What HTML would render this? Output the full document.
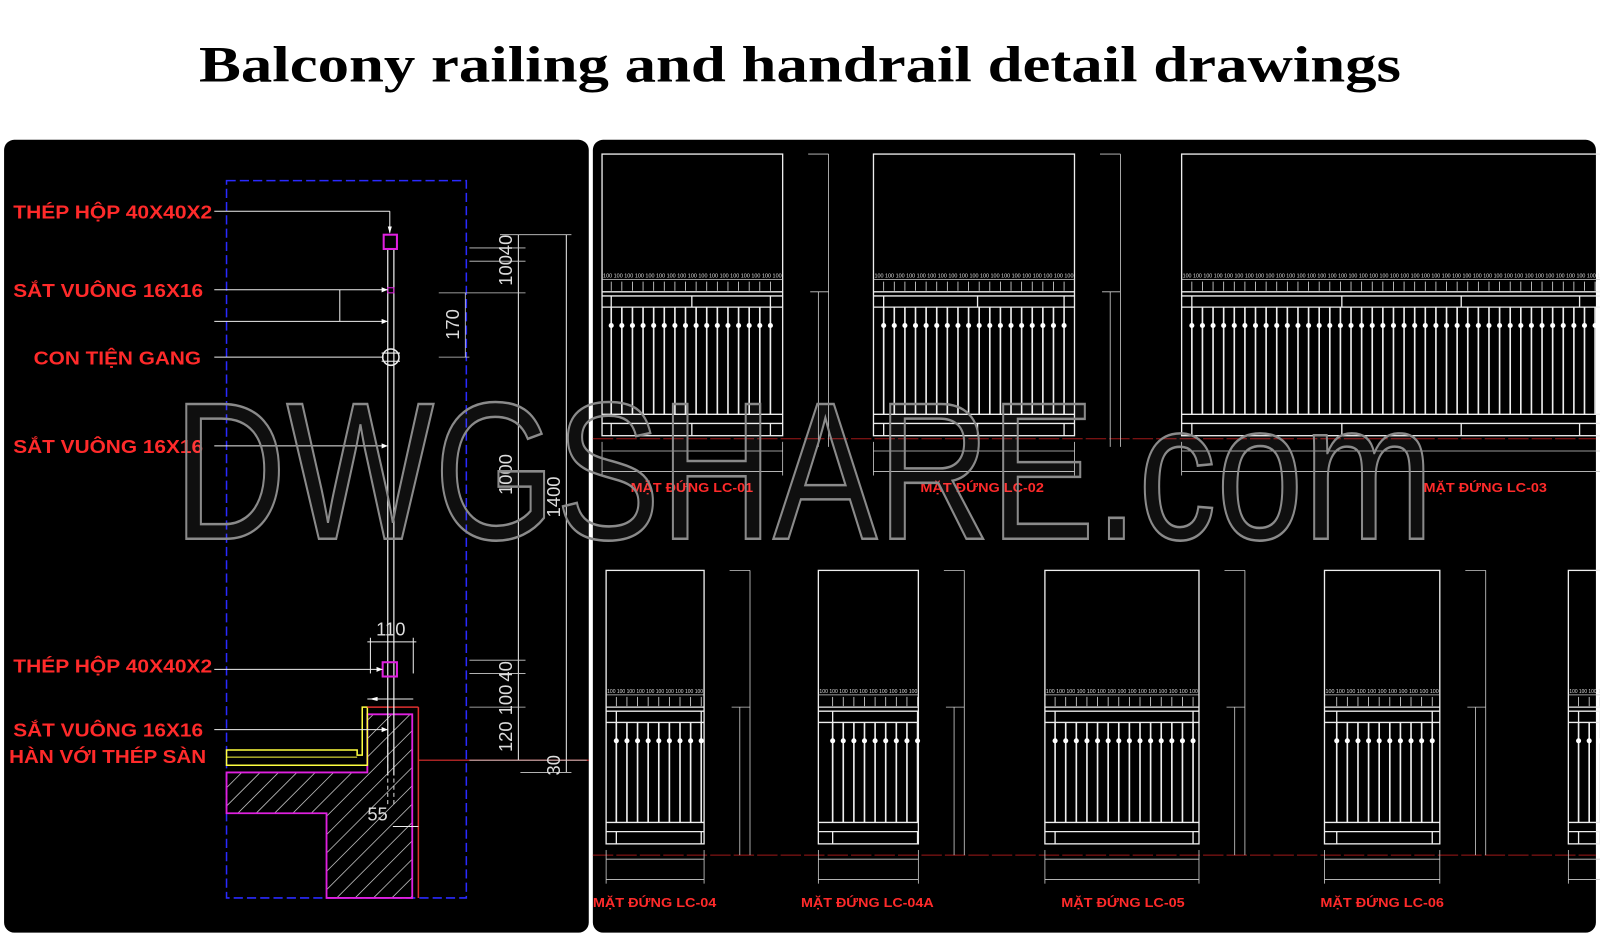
<!DOCTYPE html>
<html><head><meta charset="utf-8"><style>
html,body{margin:0;padding:0;background:#fff;width:1600px;height:936px;overflow:hidden}
svg{display:block}
.lbl{font-family:"Liberation Sans",sans-serif;font-weight:bold;fill:#ff2a2a}
.dim{font-family:"Liberation Sans",sans-serif;fill:#ddd}
</style></head><body>
<svg id="s" width="1600" height="936" viewBox="0 0 1568 917.3" preserveAspectRatio="none" xmlns="http://www.w3.org/2000/svg">
<rect width="1568" height="918" fill="#fff"/>
<text x="195" y="80" textLength="1178" lengthAdjust="spacingAndGlyphs" font-family="Liberation Serif,serif" font-weight="bold" font-size="50" fill="#000">Balcony railing and handrail detail drawings</text>
<rect x="4" y="137" width="573" height="777" rx="10" fill="#000"/>
<rect x="581" y="137" width="983" height="777" rx="10" fill="#000"/>
<g id="left"></g>
<g id="right"></g>
<g class="lbl" font-size="18">
<text x="13" y="214" textLength="195" lengthAdjust="spacingAndGlyphs">THÉP HỘP 40X40X2</text>
<text x="13" y="291" textLength="186" lengthAdjust="spacingAndGlyphs">SẮT VUÔNG 16X16</text>
<text x="33" y="357" textLength="164" lengthAdjust="spacingAndGlyphs">CON TIỆN GANG</text>
<text x="13" y="444" textLength="186" lengthAdjust="spacingAndGlyphs">SẮT VUÔNG 16X16</text>
<text x="13" y="659" textLength="195" lengthAdjust="spacingAndGlyphs">THÉP HỘP 40X40X2</text>
<text x="13" y="722" textLength="186" lengthAdjust="spacingAndGlyphs">SẮT VUÔNG 16X16</text>
<text x="9" y="748" textLength="193" lengthAdjust="spacingAndGlyphs">HÀN VỚI THÉP SÀN</text>
</g>
<g class="dim" font-size="18">
<text x="383" y="623" text-anchor="middle">110</text>
<text x="370" y="804" text-anchor="middle">55</text>
<text transform="translate(502,255) rotate(-90)" text-anchor="middle">10040</text>
<text transform="translate(450,318) rotate(-90)" text-anchor="middle">170</text>
<text transform="translate(502,465) rotate(-90)" text-anchor="middle">1000</text>
<text transform="translate(549,487) rotate(-90)" text-anchor="middle">1400</text>
<text transform="translate(502,658) rotate(-90)" text-anchor="middle">40</text>
<text transform="translate(502,686) rotate(-90)" text-anchor="middle">100</text>
<text transform="translate(502,722) rotate(-90)" text-anchor="middle">120</text>
<text transform="translate(549,750) rotate(-90)" text-anchor="middle">30</text>
</g>
<g class="lbl" font-size="13">
<text x="618" y="482" textLength="120" lengthAdjust="spacingAndGlyphs">MẶT ĐỨNG LC-01</text>
<text x="902" y="482" textLength="121" lengthAdjust="spacingAndGlyphs">MẶT ĐỨNG LC-02</text>
<text x="1395" y="482" textLength="121" lengthAdjust="spacingAndGlyphs">MẶT ĐỨNG LC-03</text>
<text x="581" y="889" textLength="121" lengthAdjust="spacingAndGlyphs">MẶT ĐỨNG LC-04</text>
<text x="785" y="889" textLength="130" lengthAdjust="spacingAndGlyphs">MẶT ĐỨNG LC-04A</text>
<text x="1040" y="889" textLength="121" lengthAdjust="spacingAndGlyphs">MẶT ĐỨNG LC-05</text>
<text x="1294" y="889" textLength="121" lengthAdjust="spacingAndGlyphs">MẶT ĐỨNG LC-06</text>
</g>
<text x="170" y="528" textLength="1235" lengthAdjust="spacingAndGlyphs" font-family="Liberation Sans,sans-serif" font-size="192" fill="rgba(255,255,255,0.06)" stroke="#8a8a8a" stroke-width="2.5">DWGSHARE.com</text>
</svg>
<script>
var NS="http://www.w3.org/2000/svg";
function el(p,t,a){var e=document.createElementNS(NS,t);for(var k in a)e.setAttribute(k,a[k]);p.appendChild(e);return e;}
var L=document.getElementById('left'),R=document.getElementById('right');
function ln(g,x1,y1,x2,y2,c,w,d){var a={x1:x1,y1:y1,x2:x2,y2:y2,stroke:c||'#eee','stroke-width':w||1};if(d)a['stroke-dasharray']=d;return el(g,'line',a);}
el(L,'rect',{x:222,y:177,width:235,height:703,fill:'none',stroke:'#2a2aff','stroke-width':1.5,'stroke-dasharray':'9 4'});
var hp="M222,757 L360,757 L360,700 L404,700 L404,880 L320,880 L320,797 L222,797 Z";
var dfs=el(L,'defs',{});var cp=el(dfs,'clipPath',{id:'cp'});el(cp,'path',{d:hp});
var hg=el(L,'g',{'clip-path':'url(#cp)'});
for(var i=-20;i<30;i++){ln(hg,222+i*18,880,222+i*18+190,690,'#bbb',0.8);}
el(L,'path',{d:hp,fill:'none',stroke:'#e020e0','stroke-width':1.8});
el(L,'path',{d:"M222,735 L350,735 L350,740 L355,740 L355,693 L360,693 L360,750 L222,750 Z",fill:'none',stroke:'#ffff40','stroke-width':1.5});
ln(L,222,742,350,742,'#ffff40',1);
ln(L,410,693,410,880,'#e03030',1.5);ln(L,360,693,410,693,'#e03030',1.5);ln(L,410,745,577,745,'#e03030',1);
ln(L,380,244,380,760,'#eee',1.2);ln(L,386,244,386,760,'#eee',1.2);
ln(L,380,700,380,790,'#ddd',1,'4 3');ln(L,386,700,386,790,'#ddd',1,'4 3');
el(L,'rect',{x:376,y:230,width:13,height:14,fill:'none',stroke:'#e020e0','stroke-width':2});
el(L,'rect',{x:375,y:649,width:14,height:14,fill:'none',stroke:'#e020e0','stroke-width':2});
el(L,'rect',{x:380,y:282,width:6,height:5,fill:'none',stroke:'#e020e0','stroke-width':1});
el(L,'ellipse',{cx:383,cy:350,rx:8,ry:8,fill:'none',stroke:'#eee','stroke-width':1.5});
ln(L,374,346,392,346);ln(L,374,354,392,354);
function lead(y,x2){ln(L,210,y,x2,y,'#eee',1);el(L,'path',{d:'M'+(x2-6)+','+(y-2.5)+' L'+x2+','+y+' L'+(x2-6)+','+(y+2.5)+'Z',fill:'#fff'});}
ln(L,210,207,382,207);ln(L,382,207,382,228);el(L,'path',{d:'M380,222 L382,229 L384,222Z',fill:'#fff'});
lead(284,380);ln(L,333,284,333,315);lead(315,380);
ln(L,210,350,376,350);lead(437,380);lead(656,375);lead(715,380);
ln(L,360,685,405,685);el(L,'path',{d:'M362,685 L370,683 L370,687Z',fill:'#fff'});
ln(L,363,625,363,660);ln(L,405,625,405,660);ln(L,360,629,408,629);
ln(L,385,810,410,810);
ln(L,508,230,508,745);ln(L,555,230,555,757);
[[230,490,560],[243,460,515],[256,460,515],[287,430,515],[350,430,460],[647,460,515],[660,460,515],[693,460,515],[745,460,575],[757,510,560]].forEach(function(a){ln(L,a[1],a[0],a[2],a[0],'#ccc',0.8);});
ln(L,456,287,456,350,'#ccc',0.8);
function elev(x0,x1,top,rt,bot,n,first,dx,mids){
 var g=R;
 el(g,'rect',{x:x0,y:top,width:x1-x0,height:bot-top,fill:'none',stroke:'#eee','stroke-width':1.3});
 ln(g,x0,rt-12,x1,rt-12,'#ccc',0.7);
 ln(g,x0,rt,x1,rt,'#eee',1.3);ln(g,x0,rt+4,x1,rt+4,'#eee',1.3);ln(g,x0,rt+15,x1,rt+15,'#eee',1.3);
 ln(g,x0,bot-21,x1,bot-21,'#eee',1.3);ln(g,x0,bot-12,x1,bot-12,'#eee',1.3);
 var ticks=[];for(var i=0;i<n;i++){var x=first+i*dx;if(x>x1)break;ticks.push(x);
  ln(g,x,rt+15,x,bot-21,'#eee',1.6);el(g,'circle',{cx:x,cy:rt+33,r:2.5,fill:'#fff'});ln(g,x,rt-10,x,rt-1,'#ddd',0.8);}
 mids.concat([first-dx/2>x0+2?first:x0+3, ticks[ticks.length-1]]).forEach(function(m){ln(g,m,rt+4,m,rt+15,'#eee',1.3);ln(g,m,bot-12,m,bot,'#eee',1.3);});
 var t=el(g,'text',{x:(x0+x1)/2,y:rt-14,'text-anchor':'middle','font-size':5,fill:'#ddd','font-family':'Liberation Sans,sans-serif',textLength:x1-x0-2,lengthAdjust:'spacingAndGlyphs'});
 var s='';for(var i=0;i<ticks.length+1;i++)s+='100 ';t.textContent=s.trim();
 var b=bot+15;ln(g,x0,b,x1,b,'#ccc',0.8);ln(g,x0,b+20,x1,b+20,'#ccc',0.8);ln(g,x0,bot+6,x0,b+24,'#ccc',0.8);ln(g,x1,bot+6,x1,b+24,'#ccc',0.8);
 var dx1=x1+35,dx2=x1+45;if(dx2<1564){ln(g,dx1,rt,dx1,bot+11,'#ccc',0.8);ln(g,dx2,top,dx2,bot+11,'#ccc',0.8);ln(g,dx1-10,top,dx2,top,'#ccc',0.8);ln(g,dx1-8,rt,dx2,rt,'#ccc',0.8);}
}
ln(R,581,430,1564,430,'#a01818',1,'20 3');ln(R,581,838,1564,838,'#a01818',1,'20 3');
elev(590,767,151,286,427,16,599,10.4,[678]);
elev(856,1053,151,286,427,19,866,10.4,[958]);
elev(1158,1575,151,286,427,60,1168,10.4,[1315,1432,1548]);
elev(594,690,559,693,827,9,604,10.4,[]);
elev(802,900,559,693,827,9,816,10.4,[]);
elev(1024,1175,559,693,827,14,1034,10.4,[]);
elev(1298,1411,559,693,827,10,1310,10.4,[]);
elev(1537,1575,559,693,827,4,1547,10.4,[]);
</script>
</body></html>
